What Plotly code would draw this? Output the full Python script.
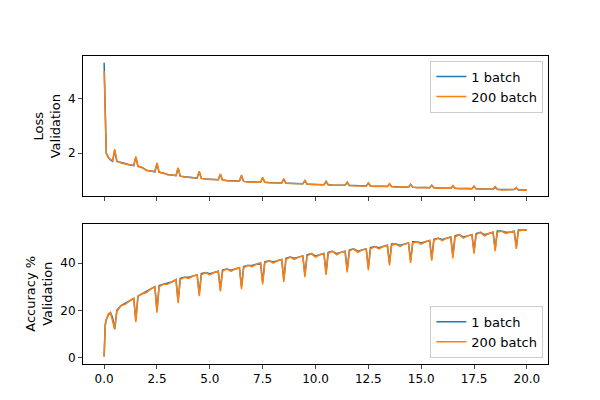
import plotly.graph_objects as go
from plotly.subplots import make_subplots

epochs_x = [0, 0.05, 0.1, 0.2, 0.3, 0.4, 0.5, 0.6, 0.8] + [e + d for e in range(1, 20) for d in (0, 0.2, 0.4, 0.5, 0.6, 0.8)] + [20]

loss_1 = [5.3, 3.0, 2.0, 1.85, 1.75, 1.7, 2.1, 1.7, 1.65,
 1.62,1.58,1.55,1.85,1.52,1.48, 1.38,1.35,1.32,1.62,1.3,1.28, 1.22,1.2,1.18,1.45,1.16,1.14,
 1.12,1.1,1.09,1.32,1.08,1.06, 1.05,1.04,1.03,1.22,1.02,1.0, 1.0,0.99,0.98,1.18,0.97,0.96,
 0.96,0.95,0.94,1.1,0.94,0.93, 0.93,0.92,0.91,1.05,0.9,0.9, 0.9,0.89,0.88,1.0,0.87,0.87,
 0.87,0.86,0.85,0.96,0.85,0.84, 0.84,0.84,0.83,0.93,0.82,0.82, 0.82,0.81,0.8,0.9,0.8,0.79,
 0.8,0.79,0.78,0.87,0.78,0.77, 0.78,0.77,0.76,0.85,0.76,0.75, 0.76,0.75,0.74,0.82,0.74,0.73,
 0.74,0.73,0.72,0.8,0.72,0.71, 0.72,0.71,0.7,0.78,0.7,0.69, 0.7,0.69,0.68,0.76,0.68,0.67,
 0.68,0.67,0.67,0.73,0.66,0.66, 0.66]
loss_200 = [5.0, 2.9, 2.0, 1.83, 1.76, 1.72, 2.15, 1.72, 1.64,
 1.6,1.57,1.55,1.88,1.53,1.47, 1.37,1.35,1.33,1.65,1.31,1.27, 1.21,1.2,1.19,1.47,1.16,1.13,
 1.11,1.1,1.1,1.34,1.08,1.05, 1.04,1.04,1.03,1.24,1.02,0.99, 0.99,0.99,0.98,1.2,0.97,0.95,
 0.95,0.95,0.94,1.12,0.94,0.92, 0.92,0.92,0.91,1.07,0.9,0.89, 0.89,0.89,0.88,1.02,0.87,0.86,
 0.86,0.86,0.85,0.98,0.85,0.83, 0.83,0.84,0.83,0.95,0.82,0.81, 0.81,0.81,0.8,0.92,0.8,0.78,
 0.79,0.79,0.78,0.89,0.78,0.76, 0.77,0.77,0.76,0.87,0.76,0.74, 0.75,0.75,0.74,0.84,0.74,0.72,
 0.73,0.73,0.72,0.82,0.72,0.7, 0.71,0.71,0.7,0.8,0.7,0.68, 0.69,0.69,0.68,0.78,0.68,0.66,
 0.67,0.67,0.67,0.75,0.66,0.65, 0.65]

acc_1 = [0.5, 14, 16, 18, 19, 17, 12, 20, 22,
 23,24,25,16,26,27, 28,29,30,20,30.5,31, 31.5,32,33,24,33.5,34, 34,34.5,35,27,35.5,36,
 35.5,36,36.5,29,37,37.5, 37,37.5,38,30,38.5,39, 39,39.5,40,32,40.5,41, 40.5,41,41.5,33,42,42.5,
 42,42.5,43,35,43.5,44, 43,43.5,44,36,44.5,45, 44,44.5,45,37,45.5,46, 45,45.5,46,38,46.5,47,
 46.5,47,47.5,40,48,48, 47.5,48,48.5,41,49,49, 48.5,49,49.5,42,50,50.5, 50,50.5,51,43,51.5,52,
 51,51.5,52,45,52.5,53, 52,52.5,53,46,53.5,53.5, 53,53,53.5,47,54,54, 54]
acc_200 = [0.5, 13, 16, 18.5, 19, 16, 12, 19.5, 22,
 22.5,24,25,15,26,27, 27.5,29,30,19,30,31, 31,32,33,23,33,34, 33.5,34.5,35,26,35,36,
 35,36,36.5,28,36.5,37.5, 36.5,37.5,38,29,38,39, 38.5,39.5,40,31,40,41, 40,41,41.5,32,41.5,42.5,
 41.5,42.5,43,34,43,44, 42.5,43.5,44,35,44,45, 43.5,44.5,45,36,45,46, 44.5,45.5,46,37,46,47,
 46,47,47.5,39,47.5,48, 47,48,48.5,40,48.5,49, 48,49,49.5,41,49.5,50.5, 49.5,50.5,51,42,51,52,
 50.5,51.5,52,44,52,53, 51.5,52.5,53,45,53,53.5, 52.5,53,53.5,46,53.5,54, 54]

blue, orange = "#1f77b4", "#ff7f0e"
fig = make_subplots(rows=2, cols=1, shared_xaxes=True, vertical_spacing=0.088)
for r, (a, b) in enumerate([(loss_1, loss_200), (acc_1, acc_200)], start=1):
    fig.add_trace(go.Scatter(x=epochs_x, y=a, mode="lines", line=dict(color=blue, width=1.5), name="1 batch", legend="legend" if r == 1 else "legend2"), row=r, col=1)
    fig.add_trace(go.Scatter(x=epochs_x, y=b, mode="lines", line=dict(color=orange, width=1.5), name="200 batch", legend="legend" if r == 1 else "legend2"), row=r, col=1)

ax = dict(showline=True, mirror=True, linecolor="black", linewidth=1, ticks="outside", ticklen=4, showgrid=False, zeroline=False, automargin=False, tickfont=dict(size=12, color="black"))
fig.update_xaxes(**ax, range=[-1, 21], tickvals=[0, 2.5, 5, 7.5, 10, 12.5, 15, 17.5, 20], ticktext=["0.0","2.5","5.0","7.5","10.0","12.5","15.0","17.5","20.0"])
fig.update_xaxes(showticklabels=False, row=1, col=1)
fig.update_yaxes(**ax)
fig.update_yaxes(range=[0.42, 5.55], tickvals=[2, 4], title=dict(text="Loss<br>Validation", font=dict(size=13), standoff=4), row=1, col=1)
fig.update_yaxes(range=[-2.7, 56.7], tickvals=[0, 20, 40], title=dict(text="Accuracy %<br>Validation", font=dict(size=13), standoff=4), row=2, col=1)

leg = dict(bgcolor="white", bordercolor="#cccccc", borderwidth=1, font=dict(size=13, color="black"), xanchor="right", tracegroupgap=0)
fig.update_layout(
    width=600, height=400, plot_bgcolor="white", paper_bgcolor="white",
    margin=dict(l=75, r=60, t=48, b=44),
    font=dict(family="DejaVu Sans", color="black"),
    legend=dict(**leg, x=0.99, y=0.985, yanchor="top"),
    legend2=dict(**leg, x=0.99, y=0.02, yanchor="bottom"),
)
fig.write_html("out.html")
